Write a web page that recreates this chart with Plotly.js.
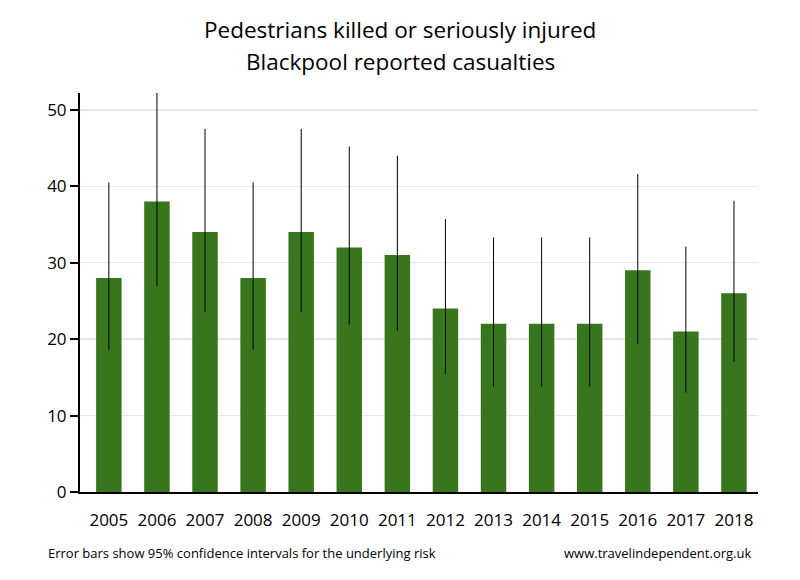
<!DOCTYPE html>
<html>
<head>
<meta charset="utf-8">
<script src="https://cdn.plot.ly/plotly-3.0.1.min.js"></script>
<style>html,body{margin:0;padding:0;background:#fff;}#chart{width:800px;height:580px;}</style>
</head>
<body>
<div id="chart"></div>
<script>
var years = ['2005','2006','2007','2008','2009','2010','2011','2012','2013','2014','2015','2016','2017','2018'];
var casualties = [28, 38, 34, 28, 34, 32, 31, 24, 22, 22, 22, 29, 21, 26];
var ciUpper = [40.5, 52.2, 47.5, 40.5, 47.5, 45.2, 44.0, 35.7, 33.3, 33.3, 33.3, 41.6, 32.1, 38.1];
var ciLower = [18.6, 26.9, 23.5, 18.6, 23.5, 21.9, 21.1, 15.4, 13.8, 13.8, 13.8, 19.4, 13.0, 17.0];
var titleLines = ['Pedestrians killed or seriously injured', 'Blackpool reported casualties'];

var plus = casualties.map(function(v, i){ return ciUpper[i] - v; });
var minus = casualties.map(function(v, i){ return v - ciLower[i]; });

var FONT = '"Open Sans", "Noto Sans", sans-serif';

var trace = {
  type: 'bar',
  x: years,
  y: casualties,
  marker: {color: '#38761d'},
  error_y: {
    type: 'data',
    symmetric: false,
    array: plus,
    arrayminus: minus,
    color: '#000000',
    thickness: 1,
    width: 0
  },
  hoverinfo: 'x+y'
};

var layout = {
  width: 800,
  height: 580,
  margin: {l: 80, r: 42, t: 93, b: 88},
  paper_bgcolor: '#ffffff',
  plot_bgcolor: '#ffffff',
  bargap: 0.47,
  showlegend: false,
  xaxis: {
    type: 'category',
    range: [-0.6, 13.5],
    showline: true,
    linecolor: '#000000',
    linewidth: 2,
    ticks: '',
    showgrid: false,
    zeroline: false,
    tickfont: {family: FONT, size: 17, color: '#000000'},
    ticklabelstandoff: 12
  },
  yaxis: {
    range: [0, 52.2],
    tickvals: [0, 10, 20, 30, 40, 50],
    showline: true,
    linecolor: '#000000',
    linewidth: 2,
    ticks: 'outside',
    ticklen: 8,
    tickwidth: 2,
    tickcolor: '#000000',
    showgrid: true,
    gridcolor: '#e8e8e8',
    gridwidth: 1.5,
    zeroline: false,
    tickfont: {family: FONT, size: 17, color: '#000000'}
  },
  annotations: [
    {
      text: titleLines[0],
      xref: 'paper', yref: 'paper',
      x: 0.472, y: 1.1604,
      xanchor: 'center', yanchor: 'middle',
      showarrow: false,
      font: {family: FONT, size: 22.5, color: '#000000'}
    },
    {
      text: titleLines[1],
      xref: 'paper', yref: 'paper',
      x: 0.472, y: 1.0802,
      xanchor: 'center', yanchor: 'middle',
      showarrow: false,
      font: {family: FONT, size: 22.5, color: '#000000'}
    },
    {
      text: 'Error bars show 95% confidence intervals for the underlying risk',
      xref: 'paper', yref: 'paper',
      x: -0.05, y: -0.1529,
      xanchor: 'left', yanchor: 'middle',
      showarrow: false,
      font: {family: FONT, size: 13, color: '#000000'}
    },
    {
      text: 'www.travelindependent.org.uk',
      xref: 'paper', yref: 'paper',
      x: 0.9925, y: -0.1529,
      xanchor: 'right', yanchor: 'middle',
      showarrow: false,
      font: {family: FONT, size: 13, color: '#000000'}
    }
  ]
};

Plotly.newPlot('chart', [trace], layout, {displayModeBar: false, staticPlot: true});
</script>
</body>
</html>
